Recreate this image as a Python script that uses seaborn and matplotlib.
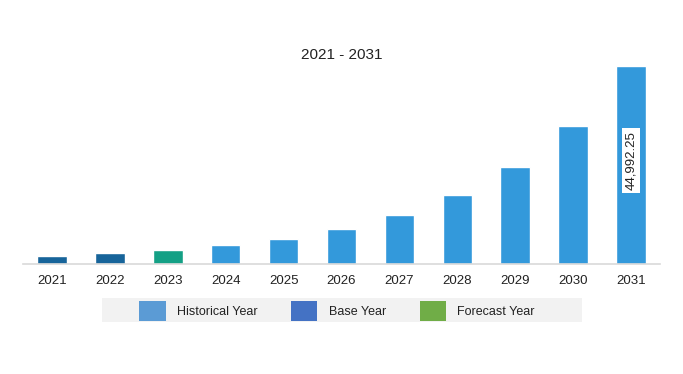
import matplotlib
matplotlib.use("Agg")
import matplotlib.pyplot as plt
import seaborn as sns
from matplotlib.patches import Patch, Rectangle
from matplotlib.ticker import FixedLocator

years = ["2021", "2022", "2023", "2024", "2025", "2026", "2027", "2028", "2029", "2030", "2031"]
values = [1830, 2440, 3120, 4330, 5700, 7980, 11170, 15730, 22120, 31460, 44992.25]
bar_colors = ["#17649A", "#17649A", "#14A085"] + ["#3399DB"] * 8
legend_labels = ["Historical Year", "Base Year", "Forecast Year"]
legend_colors = ["#5B9BD5", "#4472C4", "#70AD47"]

sns.set_style("white")
plt.rcParams["font.family"] = ["Liberation Sans", "DejaVu Sans"]

fig = plt.figure(figsize=(6.83, 3.74), dpi=100)
ax = fig.add_axes([23 / 683, 1 - 264 / 374, 637 / 683, 204 / 374])

sns.barplot(x=years, y=values, hue=years, palette=bar_colors, legend=False,
            width=0.51, saturation=1, ax=ax)

ax.set_xlim(-0.5, len(years) - 0.5)
ax.set_ylim(0, max(values) * 1.03)
ax.set_yticks([])
ax.set_xlabel("")
ax.set_ylabel("")
for s in ["top", "right", "left"]:
    ax.spines[s].set_visible(False)
ax.spines["bottom"].set_color("#D9D9D9")
ax.spines["bottom"].set_linewidth(1.2)
ax.tick_params(axis="x", which="major", length=0, labelsize=9.5, pad=8, colors="#222222")
ax.xaxis.set_minor_locator(FixedLocator([i - 0.5 for i in range(len(years) + 1)]))
ax.tick_params(axis="x", which="minor", length=4, color="#D9D9D9", width=1)

ax.text(len(years) - 1, values[-1] / 2 + 1000, "44,992.25", rotation=90,
        ha="center", va="center", fontsize=9.5, color="#222222",
        bbox=dict(boxstyle="square,pad=0.2", facecolor="white", edgecolor="none"))

fig.text(0.5, 1 - 55 / 374, "2021 - 2031", ha="center", va="center", fontsize=11, color="#222222")

fig.patches.append(Rectangle((102 / 683, 1 - 322 / 374), 480 / 683, 24 / 374,
                             transform=fig.transFigure, facecolor="#F2F2F2",
                             edgecolor="none", zorder=0))
handles = [Patch(facecolor=c, edgecolor="none") for c in legend_colors]
fig.legend(handles, legend_labels, ncol=3, loc="center", bbox_to_anchor=(337 / 683, 1 - 311 / 374),
           frameon=False, fontsize=9, handlelength=2.1, handleheight=2.1,
           handletextpad=0.9, columnspacing=2.7, labelcolor="#222222")

fig.savefig("out.png", dpi=100)
